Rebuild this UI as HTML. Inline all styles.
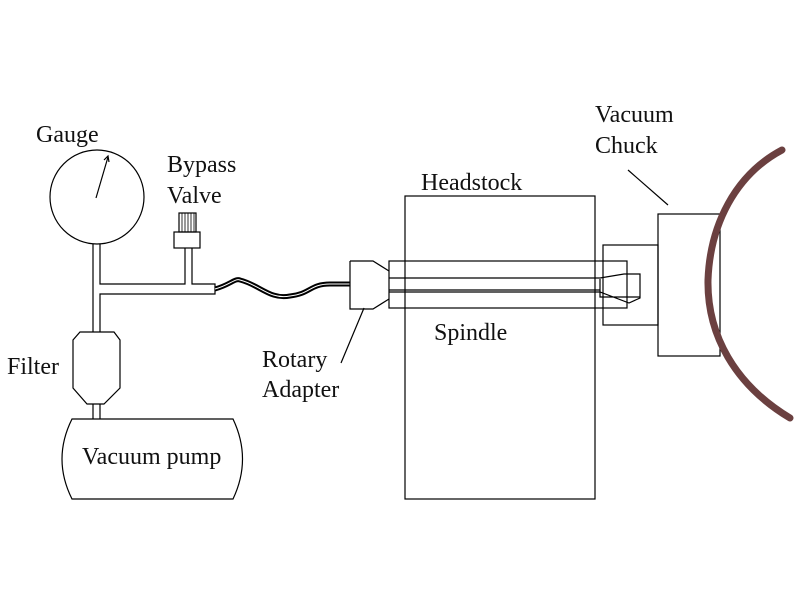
<!DOCTYPE html>
<html><head><style>body{margin:0;background:#fff}svg{display:block}text{font-family:"Liberation Serif",serif;font-size:24px;fill:#111}</style></head><body>
<svg width="800" height="600" viewBox="0 0 800 600" fill="none" stroke="#000" stroke-width="1.2">
<circle cx="97" cy="197" r="47"/>
<line x1="96" y1="198" x2="108" y2="157"/>
<path d="M104 160 L108 156 L109 162"/>
<path d="M93 244 V332 M100 244 V284 H185 V248 M192 248 V284 H215 V294 H100 V332"/>
<rect x="174" y="232" width="26" height="16"/>
<rect x="179" y="213" width="17" height="19"/>
<path d="M182 213V232M185 213V232M188 213V232M191 213V232M194 213V232" stroke-width="0.8"/>
<path d="M80 332 H114 L120 340 V388 L104 404 H87 L73 388 V340 Z"/>
<path d="M93 404 V419 M100 404 V419"/>
<path d="M72 419 H233 Q252 459 233 499 H72 Q52 459 72 419 Z"/>
<path d="M215 289 C230 285 235 278 240 280 C260 285 270 300 290 296 C310 294 310 284 330 284 L350 284" stroke-width="5"/>
<path d="M215 289 C230 285 235 278 240 280 C260 285 270 300 290 296 C310 294 310 284 330 284 L350 284" stroke="#fff" stroke-width="1"/>
<rect x="405" y="196" width="190" height="303"/>
<path d="M350 261 H373 L389 271 M350 261 V309 H373 L389 299"/>
<rect x="389" y="261" width="238" height="47"/>
<path d="M389 278 H600 L624 274 H640 V298 L629 303 L600 292 H389 M389 290 H600 M600 279 V297 H640"/>
<rect x="603" y="245" width="55" height="80"/>
<rect x="658" y="214" width="62" height="142"/>
<path d="M782 150 C735 175 710 225 708 280 C707 335 735 385 790 418" stroke="#6b4040" stroke-width="7" stroke-linecap="round"/>
<line x1="364" y1="308" x2="341" y2="363"/>
<line x1="628" y1="170" x2="668" y2="205"/>
<g stroke="none">
<text x="36" y="142">Gauge</text>
<text x="167" y="172">Bypass</text>
<text x="167" y="203">Valve</text>
<text x="7" y="374">Filter</text>
<text x="82" y="464">Vacuum pump</text>
<text x="262" y="367">Rotary</text>
<text x="262" y="397">Adapter</text>
<text x="421" y="190">Headstock</text>
<text x="434" y="340">Spindle</text>
<text x="595" y="122">Vacuum</text>
<text x="595" y="153">Chuck</text>
</g>
</svg>
</body></html>
